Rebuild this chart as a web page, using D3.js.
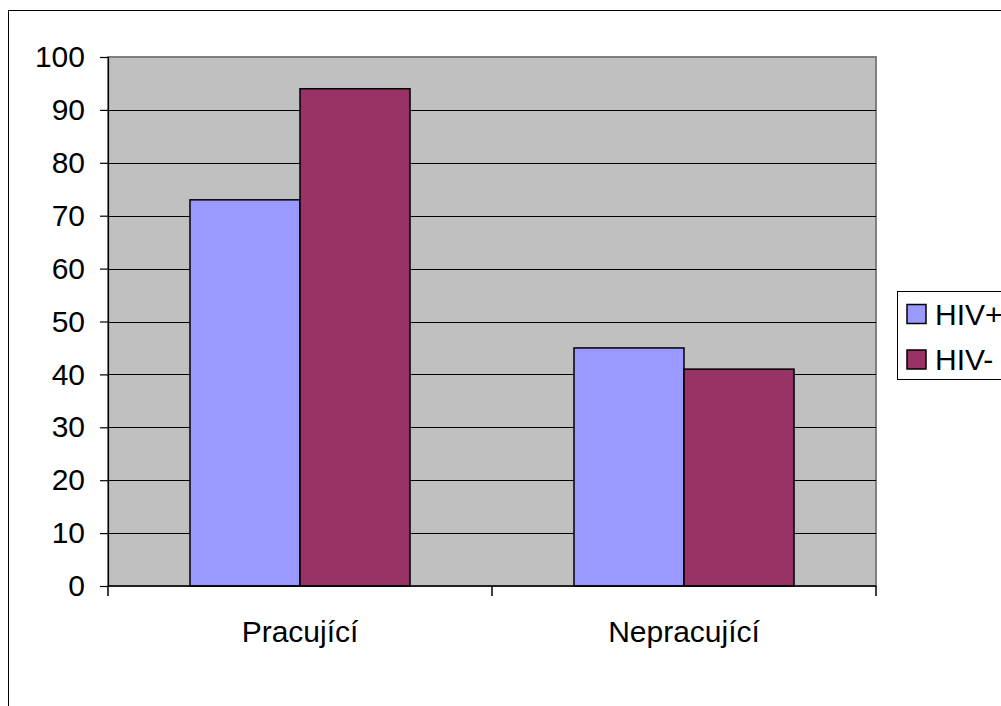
<!DOCTYPE html>
<html>
<head>
<meta charset="utf-8">
<script src="https://cdn.jsdelivr.net/npm/d3@7"></script>
<style>
  html, body { margin: 0; padding: 0; background: #ffffff; }
  svg { display: block; font-family: Arial, "Liberation Sans", sans-serif; }
</style>
</head>
<body>
<svg id="chart" width="1001" height="706"></svg>
<script>
// Data
const categories = ["Pracující", "Nepracující"];
const seriesNames = ["HIV+", "HIV-"];
const hivPositive = [73, 45];
const hivNegative = [94, 41];
const yTicks = [0, 10, 20, 30, 40, 50, 60, 70, 80, 90, 100];
const seriesColors = ["#9999FF", "#993366"];

const series = [hivPositive, hivNegative];

const svg = d3.select("#chart");
const plot = { left: 108, right: 876, top: 57, bottom: 586 };

// Outer chart frame
svg.append("rect")
  .attr("x", 8.5).attr("y", 10.5)
  .attr("width", 1100).attr("height", 800)
  .attr("fill", "#ffffff").attr("stroke", "#000000").attr("stroke-width", 1);

const y = d3.scaleLinear().domain([0, 100]).range([plot.bottom, plot.top]);
const x0 = d3.scaleBand().domain(categories).range([plot.left, plot.right])
  .paddingInner(0.427).paddingOuter(0.2135);
const x1 = d3.scaleBand().domain(seriesNames).range([0, x0.bandwidth()]).padding(0);

// Plot background
svg.append("rect")
  .attr("x", plot.left).attr("y", plot.top)
  .attr("width", plot.right - plot.left).attr("height", plot.bottom - plot.top)
  .attr("fill", "#C0C0C0").attr("stroke", "#808080").attr("stroke-width", 2);

// Horizontal gridlines
svg.append("g")
  .selectAll("line")
  .data(yTicks.filter(d => d > 0 && d < 100))
  .join("line")
  .attr("x1", plot.left).attr("x2", plot.right)
  .attr("y1", d => Math.round(y(d)) + 0.5).attr("y2", d => Math.round(y(d)) + 0.5)
  .attr("stroke", "#000000").attr("stroke-width", 1);

// Bars
const groups = svg.append("g")
  .selectAll("g")
  .data(categories)
  .join("g")
  .attr("transform", d => `translate(${x0(d)},0)`);

groups.selectAll("rect")
  .data((c, ci) => seriesNames.map((s, si) => ({ s, si, v: series[si][ci] })))
  .join("rect")
  .attr("x", d => x1(d.s))
  .attr("y", d => y(d.v))
  .attr("width", x1.bandwidth())
  .attr("height", d => y(0) - y(d.v))
  .attr("fill", d => seriesColors[d.si])
  .attr("stroke", "#000000").attr("stroke-width", 1.5);

// Y axis
const yAxis = d3.axisLeft(y).tickValues(yTicks).tickSize(8).tickPadding(15);
const gy = svg.append("g")
  .attr("transform", `translate(${plot.left},0)`)
  .call(yAxis);
gy.select(".domain").attr("stroke", "#000000").attr("stroke-width", 1.2);
gy.selectAll(".tick line").attr("stroke", "#000000").attr("stroke-width", 1.2);
gy.selectAll(".tick text")
  .attr("font-size", 30).attr("fill", "#000000")
  .attr("font-family", "Arial, 'Liberation Sans', sans-serif");

// X axis: category boundaries carry tick marks
const xAxisLine = svg.append("g");
xAxisLine.append("line")
  .attr("x1", plot.left).attr("x2", plot.right)
  .attr("y1", plot.bottom).attr("y2", plot.bottom)
  .attr("stroke", "#000000").attr("stroke-width", 1.5);
const boundaries = [plot.left].concat(categories.map(c => x0(c) + x0.bandwidth() + x0.step() * x0.paddingInner() / 2));
xAxisLine.selectAll("line.bt")
  .data(boundaries)
  .join("line")
  .attr("class", "bt")
  .attr("x1", d => d).attr("x2", d => d)
  .attr("y1", plot.bottom).attr("y2", plot.bottom + 10)
  .attr("stroke", "#000000").attr("stroke-width", 1.5);
xAxisLine.selectAll("text")
  .data(categories)
  .join("text")
  .attr("x", d => x0(d) + x0.bandwidth() / 2)
  .attr("y", 642)
  .attr("text-anchor", "middle")
  .attr("font-size", 30)
  .attr("fill", "#000000")
  .text(d => d);

// Legend
const legend = svg.append("g");
legend.append("rect")
  .attr("x", 897.5).attr("y", 291.5)
  .attr("width", 200).attr("height", 88)
  .attr("fill", "#ffffff").attr("stroke", "#000000").attr("stroke-width", 1);
const items = legend.selectAll("g.item")
  .data(seriesNames)
  .join("g")
  .attr("class", "item")
  .attr("transform", (d, i) => `translate(0,${i * 45.5})`);
items.append("rect")
  .attr("x", 907).attr("y", 304.5)
  .attr("width", 19).attr("height", 19)
  .attr("fill", (d, i) => seriesColors[i])
  .attr("stroke", "#000000").attr("stroke-width", 1.5);
items.append("text")
  .attr("x", 935).attr("y", 324.5)
  .attr("font-size", 30).attr("fill", "#000000")
  .text(d => d);
</script>
</body>
</html>
